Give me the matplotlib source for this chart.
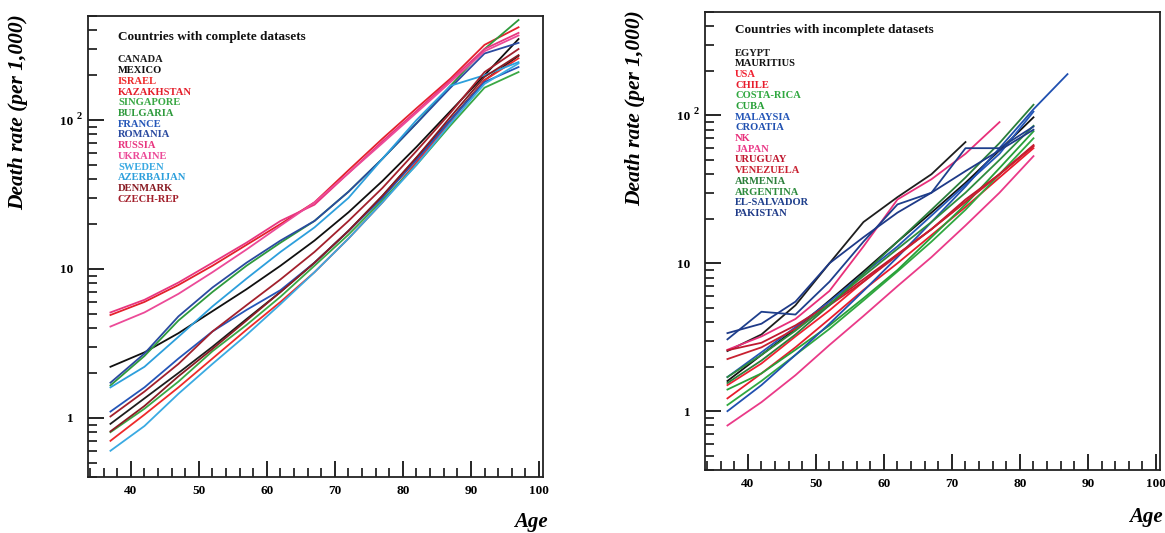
import matplotlib
matplotlib.use("Agg")
import matplotlib.pyplot as plt
import matplotlib.transforms as mtransforms
from matplotlib.ticker import LogLocator, FixedLocator, MultipleLocator, NullFormatter, FixedFormatter

plt.rcParams['font.family'] = ['Liberation Serif', 'DejaVu Serif']

# ---------------- data ----------------
AGES = [37, 42, 47, 52, 57, 62, 67, 72, 77, 82, 87, 92, 97]

left_title = "Countries with complete datasets"
left_countries = ["CANADA", "MEXICO", "ISRAEL", "KAZAKHSTAN", "SINGAPORE", "BULGARIA",
                  "FRANCE", "ROMANIA", "RUSSIA", "UKRAINE", "SWEDEN", "AZERBAIJAN",
                  "DENMARK", "CZECH-REP"]
canada     = [0.91, 1.35, 2.0, 3.0, 4.6, 7.0, 11, 18, 31, 56, 100, 185, 270]
mexico     = [2.2, 2.75, 3.7, 5.2, 7.3, 10.5, 15.5, 24, 39, 66, 115, 200, 350]
israel     = [0.70, 1.05, 1.6, 2.5, 3.9, 6.0, 9.5, 16, 28, 52, 98, 185, 260]
kazakhstan = [4.9, 6.0, 7.8, 10.5, 14.5, 20, 28, 46, 75, 120, 190, 320, 420]
singapore  = [0.80, 1.15, 1.75, 2.8, 4.2, 6.5, 10.5, 17, 29, 50, 92, 165, 210]
bulgaria   = [1.65, 2.6, 4.5, 7.0, 10.5, 15, 21, 33, 55, 95, 170, 300, 470]
france     = [1.1, 1.6, 2.5, 3.8, 5.3, 7.2, 11, 18, 30, 54, 100, 180, 227]
romania    = [1.72, 2.7, 4.8, 7.5, 11, 15.5, 21, 33, 55, 95, 165, 280, 330]
russia     = [5.1, 6.2, 8.1, 11, 15, 21, 27, 44, 72, 115, 185, 300, 385]
ukraine    = [4.1, 5.1, 6.8, 9.5, 13.5, 19.5, 28, 44, 70, 112, 180, 290, 370]
sweden     = [0.60, 0.88, 1.45, 2.3, 3.6, 5.8, 9.5, 16, 28, 50, 95, 175, 240]
azerbaijan = [1.6, 2.2, 3.5, 5.6, 8.6, 13, 19, 30, 55, 100, 170, 200, 245]
denmark    = [0.81, 1.2, 1.9, 2.9, 4.5, 7.0, 11, 18, 31, 56, 105, 195, 273]
czech      = [1.02, 1.5, 2.3, 3.8, 5.7, 8.5, 13, 21, 35, 62, 112, 210, 300]
left_values = [canada, mexico, israel, kazakhstan, singapore, bulgaria, france, romania,
               russia, ukraine, sweden, azerbaijan, denmark, czech]
left_colors = ["#1e1e1e", "#101010", "#ee2a2a", "#e4202c", "#3aa845", "#2e9a3c",
               "#2456b8", "#2a4aa0", "#e8357f", "#ec4a98", "#3aaae2", "#2c9fdc",
               "#8a1c24", "#a3202c"]

right_title = "Countries with incomplete datasets"
right_countries = ["EGYPT", "MAURITIUS", "USA", "CHILE", "COSTA-RICA", "CUBA",
                   "MALAYSIA", "CROATIA", "NK", "JAPAN", "URUGUAY", "VENEZUELA",
                   "ARMENIA", "ARGENTINA", "EL-SALVADOR", "PAKISTAN"]
egypt      = [2.55, 3.3, 5.2, 10, 19, 28, 40, 66]
mauritius  = [1.6, 2.4, 3.6, 5.6, 8.8, 14, 22, 35, 58, 97]
usa        = [1.5, 2.1, 3.2, 4.8, 7.5, 11.5, 17, 26, 40, 62]
chile      = [1.22, 1.8, 2.7, 4.2, 6.6, 10, 15.5, 24, 38, 60]
costarica  = [1.1, 1.6, 2.4, 3.6, 5.6, 8.8, 14, 23, 40, 70]
cuba       = [1.4, 1.8, 2.6, 3.8, 5.8, 9, 15, 25, 44, 78]
malaysia   = [1.7, 2.5, 3.7, 5.5, 8.5, 13, 21, 34, 55, 106]
croatia    = [1.0, 1.5, 2.4, 3.9, 6.5, 11, 19, 33, 60, 110, 190]
nk         = [2.6, 3.2, 4.2, 6.5, 13, 27, 37, 55, 90]
japan      = [0.80, 1.15, 1.75, 2.8, 4.4, 7, 11, 18, 30, 53]
uruguay    = [2.58, 2.9, 3.8, 5.3, 7.8, 11.5, 17, 27, 40, 63]
venezuela  = [2.25, 2.7, 3.6, 5.2, 7.5, 11.3, 17, 26, 40, 62]
armenia    = [1.55, 2.2, 3.3, 5.2, 8.5, 14, 23, 38, 65, 118]
argentina  = [1.7, 2.4, 3.5, 5.3, 8.2, 12.5, 19, 30, 50, 85]
elsalvador = [3.06, 4.7, 4.5, 7.5, 14, 25, 30, 60, 60, 84]
pakistan   = [3.37, 3.9, 5.5, 10, 15, 22, 30, 42, 58, 80]
right_values = [egypt, mauritius, usa, chile, costarica, cuba, malaysia, croatia, nk,
                japan, uruguay, venezuela, armenia, argentina, elsalvador, pakistan]
right_colors = ["#1e1e1e", "#101010", "#f02030", "#e81c2c", "#30a840", "#28a038",
                "#2456b8", "#2050b0", "#e8307a", "#ea3a88", "#c01830", "#c82030",
                "#2a7e3a", "#2e8c3e", "#1e3f8c", "#1e3a88"]

X_TICKS = [40, 50, 60, 70, 80, 90, 100]
Y_TICKS = [1, 10, 100]
Y_TICK_LABELS = ["1", "10", "10"]
SUPERSCRIPT = "2"

# ---------------- figure ----------------
W, H = 1165, 533
fig = plt.figure(figsize=(W / 100, H / 100), dpi=100)


def px_axes(x0, y0, x1, y1):
    return fig.add_axes([x0 / W, 1 - y1 / H, (x1 - x0) / W, (y1 - y0) / H])


def style(ax):
    ax.set_yscale("log")
    ax.set_xlim(33.7, 100.6)
    ax.set_ylim(0.4, 500)
    ax.xaxis.set_major_locator(FixedLocator(X_TICKS))
    ax.xaxis.set_minor_locator(MultipleLocator(2))
    ax.yaxis.set_major_locator(FixedLocator(Y_TICKS))
    ax.yaxis.set_major_formatter(FixedFormatter(Y_TICK_LABELS))
    ax.yaxis.set_minor_locator(LogLocator(base=10, subs=range(2, 10)))
    ax.yaxis.set_minor_formatter(NullFormatter())
    ax.tick_params(which="major", direction="in", length=11.5, width=1.2,
                   labelsize=9.5, top=False, right=False)
    ax.tick_params(axis="y", which="major", pad=10.5)
    ax.tick_params(axis="x", which="major", pad=6)
    ax.tick_params(which="minor", direction="in", length=6.5, width=1.1,
                   top=False, right=False)
    for lab in ax.get_xticklabels() + ax.get_yticklabels():
        lab.set_fontweight("bold")
    for s in ax.spines.values():
        s.set_linewidth(1.3)
        s.set_color("#222222")
    # superscript of the 10^2 tick label
    tr = mtransforms.blended_transform_factory(ax.transAxes, ax.transData)
    off = mtransforms.ScaledTranslation(-9 / 100, 4 / 100, fig.dpi_scale_trans)
    ax.text(0, Y_TICKS[-1], SUPERSCRIPT, transform=tr + off, fontsize=7.5,
            fontweight="bold", ha="center", va="center", clip_on=False)


def legend_text(title, names, colors, x, ytitle, yfirst, step):
    fig.text(x / W, 1 - ytitle / H, title, fontsize=9.5, fontweight="bold",
             va="center", ha="left", color="#111111")
    for i, (n, c) in enumerate(zip(names, colors)):
        fig.text(x / W, 1 - (yfirst + i * step) / H, n, fontsize=7.6,
                 fontweight="bold", va="center", ha="left", color=c)


# left panel
axL = px_axes(88, 16, 543, 477)
for vals, c in zip(left_values, left_colors):
    axL.plot(AGES[:len(vals)], vals, color=c, lw=1.3)
style(axL)
legend_text(left_title, left_countries, left_colors, 118, 37, 60, 10.7)
fig.text(18 / W, 1 - 112 / H, "Death rate (per 1,000)", rotation=90, fontsize=15.5,
         fontweight="bold", style="italic", ha="center", va="center")
fig.text(548 / W, 1 - 522 / H, "Age", fontsize=15, fontweight="bold", style="italic",
         ha="right", va="center")

# right panel
axR = px_axes(705, 12, 1160, 470)
for vals, c in zip(right_values, right_colors):
    axR.plot(AGES[:len(vals)], vals, color=c, lw=1.3)
style(axR)
legend_text(right_title, right_countries, right_colors, 735, 30, 53.3, 10.67)
fig.text(635 / W, 1 - 108 / H, "Death rate (per 1,000)", rotation=90, fontsize=15.5,
         fontweight="bold", style="italic", ha="center", va="center")
fig.text(1163 / W, 1 - 517 / H, "Age", fontsize=15, fontweight="bold", style="italic",
         ha="right", va="center")

fig.savefig("out.png", dpi=100)
